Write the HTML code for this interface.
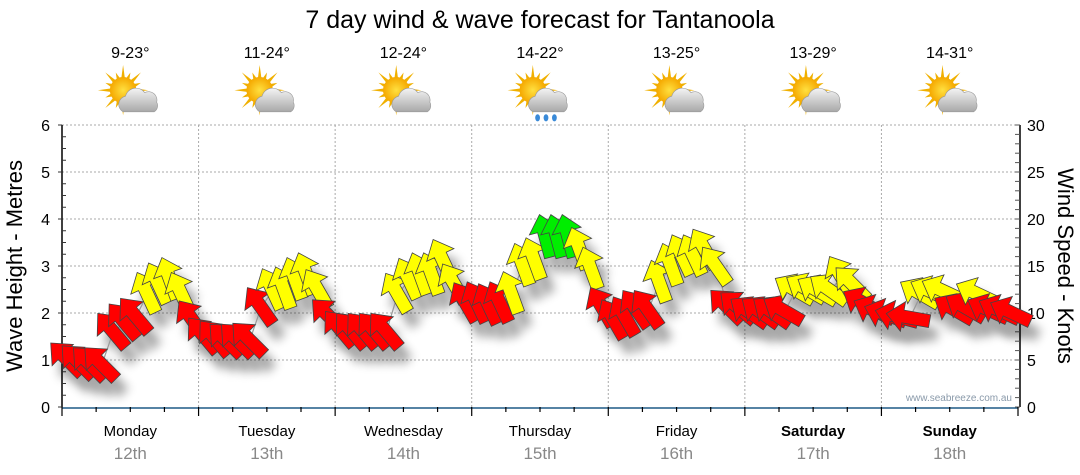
<!DOCTYPE html>
<html><head><meta charset="utf-8"><style>
body{margin:0;background:#fff;}
svg{display:block;font-family:"Liberation Sans","DejaVu Sans",sans-serif;}
</style></head><body>
<svg id="chart" width="1080" height="475" viewBox="0 0 1080 475">
<defs>
<filter id="sh" x="-50%" y="-50%" width="200%" height="200%"><feGaussianBlur stdDeviation="5"/></filter>
<radialGradient id="sun" cx="50%" cy="50%" r="50%"><stop offset="0" stop-color="#ffe040"/><stop offset="1" stop-color="#f5a800"/></radialGradient>
<linearGradient id="cloud" x1="0" y1="0" x2="0" y2="1"><stop offset="0" stop-color="#f4f4f4"/><stop offset="1" stop-color="#a8a8a8"/></linearGradient>
</defs>
<text x="540" y="28" text-anchor="middle" font-size="25" fill="#000">7 day wind &amp; wave forecast for Tantanoola</text>
<g id="grid"></g>
<g id="axes"></g>
<g id="header"></g>
<g id="shadows" opacity="0.35"></g>
<polyline id="trend" fill="none" stroke="#999" stroke-width="1.2"></polyline>
<g id="marks"></g>
<text x="1012" y="401" text-anchor="end" font-size="10" fill="#8a9aaa">www.seabreeze.com.au</text>
<text transform="translate(22,266) rotate(-90)" text-anchor="middle" font-size="22" fill="#000">Wave Height - Metres</text>
<text transform="translate(1058,266) rotate(90)" text-anchor="middle" font-size="22" fill="#000">Wind Speed - Knots</text>
</svg>
<script>
const days = ["Monday","Tuesday","Wednesday","Thursday","Friday","Saturday","Sunday"];
const dates = ["12th","13th","14th","15th","16th","17th","18th"];
const temps = ["9-23°","11-24°","12-24°","14-22°","13-25°","13-29°","14-31°"];
const rainy = [false,false,false,true,false,false,false];
const leftTicks = [0,1,2,3,4,5,6];
const rightTicks = [0,5,10,15,20,25,30];
const windKnots = [5,4.7,4.5,4.5,8,9,9.6,12,13,13.5,12,9.2,
 7.5,7.2,7,7,7.1,10.6,12.4,12.5,13.5,14,12.4,9.6,
 8.2,8,8,8,8,12,13.5,14,14,15.5,13,11,
 11,10.8,11,12,15,15.6,18,18,18,16.7,14.6,10.5,
 9.2,9.5,10.3,10.3,13.2,15,16,16,16.7,14.9,10.6,10.5,
 10,10,10,10.2,12.4,12.5,12.3,12.4,13.8,13,11,10.2,
 9.8,9.6,9.5,12,12.2,12.3,10.3,10.5,12,10.3,10.2,10];
const windDir = [-45,-45,-45,-45,-40,-40,-40,-25,-25,-20,-25,-35,
 -40,-40,-45,-45,-45,-35,-25,-20,-20,-20,-30,-45,
 -40,-40,-40,-40,-40,-30,-25,-20,-20,-25,-30,-30,
 -25,-25,-25,-20,-20,-20,-15,-15,-15,-20,-20,-30,
 -30,-30,-35,-35,-20,-20,-25,-25,-30,-35,-45,-50,
 -55,-55,-55,-60,-60,-60,-60,-55,-30,-45,-60,-65,
 -70,-75,-80,-60,-65,-65,-60,-60,-65,-65,-65,-65];

const X0=62, X1=1018, Y0=407, Y1=125;
const dayW=(X1-X0)/7;
const ns="http://www.w3.org/2000/svg";
function mk(tag,attrs,parent,txt){const e=document.createElementNS(ns,tag);for(const k in attrs)e.setAttribute(k,attrs[k]);if(txt!==undefined)e.textContent=txt;parent.appendChild(e);return e;}
const yM=v=>Y0-(v/6)*(Y0-Y1);
const yK=v=>Y0-(v/30)*(Y0-Y1);
const xI=i=>X0+(i+0.5)*dayW/12;

const grid=document.getElementById('grid'), axes=document.getElementById('axes'), header=document.getElementById('header');
for(let m=1;m<=6;m++){const l=mk('line',{x1:X0,x2:X1,y1:yM(m),y2:yM(m),stroke:'#aaa','stroke-dasharray':'2,2'},grid);

}
for(let d=1;d<7;d++){const x=X0+d*dayW;const l=mk('line',{x1:x,x2:x,y1:Y1,y2:Y0,stroke:'#aaa','stroke-dasharray':'2,2'},grid);

}
mk('line',{x1:X0,x2:X0,y1:Y1,y2:Y0,stroke:'#000','stroke-width':1.5},axes);
mk('line',{x1:X1+2,x2:X1+2,y1:Y1,y2:Y0,stroke:'#000','stroke-width':1.5},axes);
mk('line',{x1:X0,x2:X1,y1:Y0+1,y2:Y0+1,stroke:'#1e5a85','stroke-width':1.5},axes);
for(let k=0;k<=24;k++){const y=Y0-k*(Y0-Y1)/24;mk('line',{x1:X0,x2:X0+(k%4==0?-4:4),y1:y,y2:y,stroke:'#333'},axes);}
for(let k=0;k<=30;k++){const y=yK(k);mk('line',{x1:X1+2,x2:X1-3,y1:y,y2:y,stroke:'#555'},axes);}
leftTicks.forEach(v=>{const t=mk('text',{x:50,y:yM(v)+6,'text-anchor':'end','font-size':16},axes,String(v));

});
rightTicks.forEach(v=>{const t=mk('text',{x:1027,y:yK(v)+6,'font-size':16},axes,String(v));

});
for(let k=0;k<=28;k++){const x=X0+k*dayW/4;mk('line',{x1:x,x2:x,y1:Y0,y2:Y0+(k%4==0?9:5),stroke:'#000','stroke-width':1.2},axes);}

function icon(cx,cy,rain){const g=mk('g',{transform:`translate(${cx},${cy}) scale(1.2)`},header);


for(let a=0;a<16;a++){const r=a%2?16:21;const ang=a*Math.PI/8;mk('polygon',{points:`${-6+Math.cos(ang)*r},${-4+Math.sin(ang)*r} ${-6+Math.cos(ang+0.15)*10},${-4+Math.sin(ang+0.15)*10} ${-6+Math.cos(ang-0.15)*10},${-4+Math.sin(ang-0.15)*10}`,fill:'#f0b000'},g);}
mk('circle',{cx:-6,cy:-4,r:11,fill:'url(#sun)'},g);
mk('path',{d:'M-6,14 a7,7 0 0 1 2,-13 a9,9 0 0 1 16,-3 a7,7 0 0 1 10,8 a6,6 0 0 1 -2,8 z',fill:'url(#cloud)',stroke:'#999','stroke-width':0.5},g);
if(rain){[-2,5,12].forEach(x=>mk('ellipse',{cx:x,cy:19,rx:2,ry:3,fill:'#3a8ad8'},g));}
}
for(let d=0;d<7;d++){const cx=X0+(d+0.5)*dayW;
const t=mk('text',{x:cx,y:58,'text-anchor':'middle','font-size':16},header,temps[d]);


icon(cx,95,rainy[d]);
const dl=mk('text',{x:cx,y:436,'text-anchor':'middle','font-size':15,'font-weight':d>=5?'bold':'normal'},axes,days[d]);


const dt=mk('text',{x:cx,y:459,'text-anchor':'middle','font-size':17,fill:'#888'},axes,dates[d]);

}

const arrowPts="0,-24 15,-7 6.5,-7 6.5,20 -6.5,20 -6.5,-7 -15,-7";
const shadows=document.getElementById('shadows'), marks=document.getElementById('marks');
let pts=[];
windKnots.forEach((v,i)=>{const x=xI(i), y=yK(v);pts.push(x+','+y);
mk('polygon',{points:arrowPts,fill:'#000',filter:'url(#sh)',transform:`translate(${x+8},${y+14}) rotate(${windDir[i]})`},shadows);});
document.getElementById('trend').setAttribute('points',pts.join(' '));
windKnots.forEach((v,i)=>{const x=xI(i), y=yK(v);
const col=v>=17.5?'#00ee00':(v>=11.8?'#ffff00':'#ff0000');
const p=mk('polygon',{points:arrowPts,fill:col,stroke:'#444','stroke-width':0.8,transform:`translate(${x},${y}) rotate(${windDir[i]})`},marks);

});
</script>
</body></html>
